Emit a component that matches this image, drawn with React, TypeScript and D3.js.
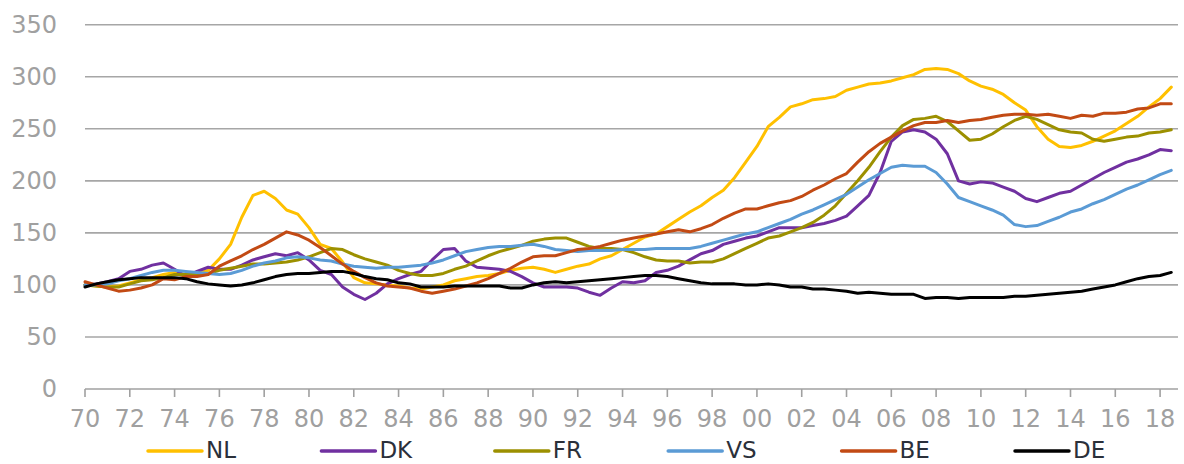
import React, { useEffect, useRef } from 'react';
import * as d3 from 'd3';

// half-year steps, 1970.0 .. 2018.5
const START_YEAR = 1970;
const STEP = 0.5;

const NL = [
  100, 99, 98, 99, 102, 105, 107, 110, 112, 110,
  111, 114, 125, 139, 165, 186, 190, 183, 172, 168,
  155, 139, 135, 122, 107, 102, 101, 100, 99, 97,
  96, 98, 100, 104, 106, 108, 109, 111, 114, 116,
  117, 115, 112, 115, 118, 120, 125, 128, 134, 140,
  146, 149, 156, 163, 170, 176, 184, 191, 203, 218,
  233, 252, 261, 271, 274, 278, 279, 281, 287, 290,
  293, 294, 296, 299, 302, 307, 308, 307, 303, 296,
  291, 288, 283, 275, 268, 252, 240, 233, 232, 234,
  238, 243, 248, 255, 262, 271, 279, 290,
];

const DK = [
  100, 101, 103, 106, 113, 115, 119, 121, 115, 108,
  113, 117, 115, 115, 119, 124, 127, 130, 128, 131,
  124, 114, 110, 98, 91, 86, 92, 101, 106, 110,
  113, 124, 134, 135, 123, 117, 116, 115, 113, 108,
  102, 98, 98, 98, 97, 93, 90, 97, 103, 102,
  104, 112, 114, 118, 124, 130, 133, 139, 142, 145,
  147, 151, 155, 155, 155, 157, 159, 162, 166, 176,
  186, 208, 238, 247, 249, 247, 240, 226, 200, 197,
  199, 198, 194, 190, 183, 180, 184, 188, 190, 196,
  202, 208, 213, 218, 221, 225, 230, 229,
];

const FR = [
  100, 99, 98, 98, 101, 104, 105, 107, 110, 110,
  110, 111, 114, 116, 118, 120, 120, 121, 122, 124,
  127, 131, 135, 134, 129, 125, 122, 119, 114, 111,
  109, 109, 111, 115, 118, 123, 128, 132, 135, 138,
  142, 144, 145, 145, 141, 137, 135, 135, 134, 131,
  127, 124, 123, 123, 121, 122, 122, 125, 130, 135,
  140, 145, 147, 151, 155, 160, 167, 176, 188, 200,
  213, 228, 242, 253, 259, 260, 262, 257, 248, 239,
  240, 245, 252, 258, 262, 259, 254, 249, 247, 246,
  240, 238, 240, 242, 243, 246, 247, 249,
];

const VS = [
  100, 100, 101, 104, 106, 109, 112, 114, 114, 113,
  112, 111, 110, 111, 114, 118, 121, 123, 126, 127,
  126, 124, 123, 120, 118, 117, 116, 117, 117, 118,
  119, 121, 124, 128, 132, 134, 136, 137, 137, 138,
  139, 137, 134, 133, 132, 133, 133, 133, 134, 134,
  134, 135, 135, 135, 135, 137, 140, 143, 146, 149,
  151, 155, 159, 163, 168, 172, 177, 182, 187, 194,
  201, 207, 213, 215, 214, 214, 208, 197, 184, 180,
  176, 172, 167, 158, 156, 157, 161, 165, 170, 173,
  178, 182, 187, 192, 196, 201, 206, 210,
];

const BE = [
  103, 100, 97, 94, 95, 97, 100, 106, 105, 108,
  108, 110, 118, 123, 128, 134, 139, 145, 151, 148,
  143, 136, 128, 120, 113, 107, 102, 99, 98, 97,
  94, 92, 94, 96, 99, 102, 106, 111, 116, 122,
  127, 128, 128, 131, 134, 135, 137, 140, 143, 145,
  147, 149, 151, 153, 151, 154, 158, 164, 169, 173,
  173, 176, 179, 181, 185, 191, 196, 202, 207, 218,
  228, 236, 242, 248, 253, 256, 256, 258, 256, 258,
  259, 261, 263, 264, 264, 263, 264, 262, 260, 263,
  262, 265, 265, 266, 269, 270, 274, 274,
];

const DE = [
  98, 101, 103, 105, 106, 107, 107, 107, 107, 106,
  103, 101, 100, 99, 100, 102, 105, 108, 110, 111,
  111, 112, 113, 113, 111, 108, 106, 105, 102, 101,
  98, 98, 98, 99, 99, 99, 99, 99, 97, 97,
  100, 102, 103, 102, 103, 104, 105, 106, 107, 108,
  109, 109, 108, 106, 104, 102, 101, 101, 101, 100,
  100, 101, 100, 98, 98, 96, 96, 95, 94, 92,
  93, 92, 91, 91, 91, 87, 88, 88, 87, 88,
  88, 88, 88, 89, 89, 90, 91, 92, 93, 94,
  96, 98, 100, 103, 106, 108, 109, 112,
];

const SERIES_NAMES = ['NL', 'DK', 'FR', 'VS', 'BE', 'DE'];
const SERIES_VALUES = [NL, DK, FR, VS, BE, DE];
const SERIES_COLORS = ['#FFC000', '#7030A0', '#9C9000', '#5B9BD5', '#C24A14', '#000000'];

const Y_TICKS = [0, 50, 100, 150, 200, 250, 300, 350];
const X_TICKS = d3.range(1970, 2019, 2);

const WIDTH = 1184;
const HEIGHT = 464;

export default function App() {
  const svgRef = useRef<SVGSVGElement>(null);

  useEffect(() => {
    if (!svgRef.current) return;
    const svg = d3.select(svgRef.current);
    svg.selectAll('*').remove();

    const font = '"DejaVu Sans", Verdana, sans-serif';
    const x = d3.scaleLinear().domain([1970, 2018.8]).range([85, 1178]);
    const y = d3.scaleLinear().domain([0, 350]).range([389, 24.7]);

    // gridlines
    svg.append('g')
      .selectAll('line')
      .data(Y_TICKS.filter(t => t > 0))
      .join('line')
      .attr('x1', x(1970))
      .attr('x2', x(2018.8))
      .attr('y1', d => y(d))
      .attr('y2', d => y(d))
      .attr('stroke', '#A6A6A6')
      .attr('stroke-width', 1.6);

    // y labels
    svg.append('g')
      .selectAll('text')
      .data(Y_TICKS)
      .join('text')
      .attr('x', 57)
      .attr('y', d => y(d))
      .attr('text-anchor', 'end')
      .attr('dominant-baseline', 'central')
      .attr('font-family', font)
      .attr('font-size', 24)
      .attr('fill', '#A0A0A0')
      .text(d => d);

    // x axis
    svg.append('line')
      .attr('x1', x(1970))
      .attr('x2', x(2018.8))
      .attr('y1', y(0))
      .attr('y2', y(0))
      .attr('stroke', '#A0A0A0')
      .attr('stroke-width', 1.6);

    svg.append('g')
      .selectAll('line')
      .data(X_TICKS)
      .join('line')
      .attr('x1', d => x(d))
      .attr('x2', d => x(d))
      .attr('y1', y(0))
      .attr('y2', y(0) + 8)
      .attr('stroke', '#A0A0A0')
      .attr('stroke-width', 1.6);

    svg.append('g')
      .selectAll('text')
      .data(X_TICKS)
      .join('text')
      .attr('x', d => x(d))
      .attr('y', 427)
      .attr('text-anchor', 'middle')
      .attr('font-family', font)
      .attr('font-size', 24)
      .attr('fill', '#A0A0A0')
      .text(d => String(d % 100).padStart(2, '0'));

    // series lines
    const line = d3.line<number>()
      .x((_, i) => x(START_YEAR + i * STEP))
      .y(d => y(d));

    SERIES_VALUES.forEach((vals, i) => {
      svg.append('path')
        .datum(vals)
        .attr('d', line)
        .attr('fill', 'none')
        .attr('stroke', SERIES_COLORS[i])
        .attr('stroke-width', 3)
        .attr('stroke-linejoin', 'round')
        .attr('stroke-linecap', 'round');
    });

    // legend
    const legend = svg.append('g');
    SERIES_NAMES.forEach((name, i) => {
      const lx = 148 + i * 173.4;
      legend.append('line')
        .attr('x1', lx)
        .attr('x2', lx + 54)
        .attr('y1', 451)
        .attr('y2', 451)
        .attr('stroke', SERIES_COLORS[i])
        .attr('stroke-width', 3.5)
        .attr('stroke-linecap', 'round');
      legend.append('text')
        .attr('x', lx + 58)
        .attr('y', 458)
        .attr('font-family', font)
        .attr('font-size', 23)
        .attr('fill', '#2B303A')
        .text(name);
    });
  }, []);

  return (
    <svg
      ref={svgRef}
      width={WIDTH}
      height={HEIGHT}
      style={{ position: 'absolute', left: 0, top: 0, background: '#fff' }}
    />
  );
}
